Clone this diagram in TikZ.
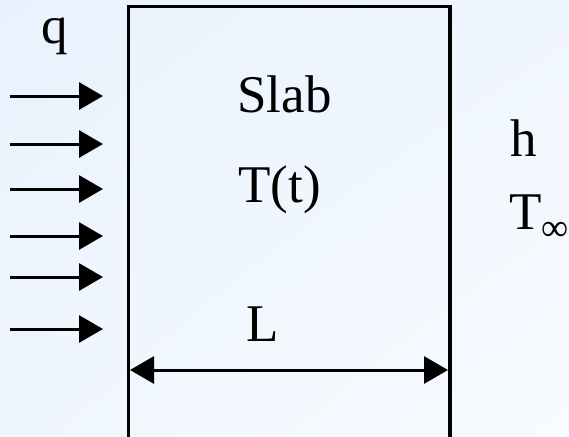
\documentclass[tikz,border=0pt]{standalone}
\usepackage{fontspec}
\setmainfont{Liberation Serif}
\usetikzlibrary{arrows.meta, shadings}

\definecolor{bgtop}{HTML}{E8F2FD}
\definecolor{bgmid}{HTML}{F0F6FE}
\definecolor{bgbottom}{HTML}{F8FBFF}

\tikzset{
    wall/.style={line width=1.65pt, black},
    flux/.style={line width=1.5pt, -{Triangle[length=12pt, width=13.5pt]}},
    dimline/.style={line width=1.5pt, {Triangle[length=12pt, width=13.5pt]}-{Triangle[length=12pt, width=13.5pt]}},
    lbl/.style={inner sep=0pt, anchor=base, font=\fontsize{26.5}{30}\selectfont}
}

\begin{document}
\begin{tikzpicture}[x=0.5pt, y=-0.5pt]

    % ==========================================
    % BACKGROUND
    % ==========================================
    \useasboundingbox (0,0) rectangle (569,436);
    \clip (0,0) rectangle (569,436);
    \shade[upper left=bgtop, upper right=bgmid, lower left=bgmid, lower right=bgbottom]
        (0,0) rectangle (569,436);

    % ==========================================
    % SLAB (open at the bottom edge of the picture)
    % ==========================================
    \coordinate (slabSW) at (128.5,460);
    \coordinate (slabNW) at (128.5,6.3);
    \coordinate (slabNE) at (450,6.3);
    \coordinate (slabSE) at (450,460);
    \draw[wall] (slabSW) -- (slabNW) -- (slabNE) -- (slabSE);

    % Labels inside the slab
    \node[lbl] (slab) at (284.5,112) {Slab};
    \node[lbl] (temp) at (279.5,202) {T(t)};

    % ==========================================
    % INCOMING HEAT FLUX q
    % ==========================================
    \node[lbl] (q) at (55,43) {q};
    \foreach \y [count=\i] in {96,144,189,236,277,329} {
        \coordinate (q\i start) at (10,\y);
        \coordinate (q\i end) at (103,\y);
        \draw[flux] (q\i start) -- (q\i end);
    }

    % ==========================================
    % THICKNESS L
    % ==========================================
    \node[lbl] (thick) at (262.5,341) {L};
    \coordinate (dimL) at (130,370);
    \coordinate (dimR) at (448,370);
    \draw[dimline] (dimL) -- (dimR);

    % ==========================================
    % CONVECTION ON THE RIGHT
    % ==========================================
    \node[lbl] (h) at (524,156) {h};
    \node[lbl, anchor=base west] (tinf) at (509,229)
        {T\raisebox{-5.5pt}{\fontsize{19}{19}\selectfont ∞}};

\end{tikzpicture}
\end{document}
